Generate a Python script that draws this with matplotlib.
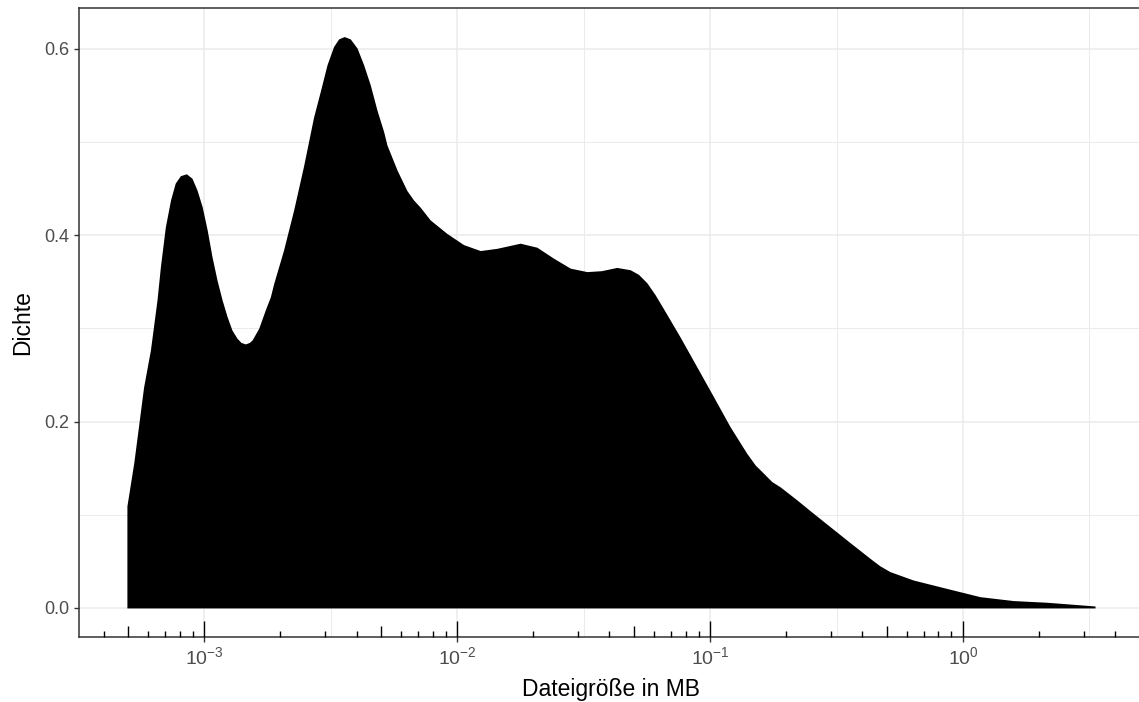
import numpy as np
import matplotlib
matplotlib.use('Agg')
import matplotlib.pyplot as plt
from matplotlib.ticker import FixedLocator
from matplotlib.transforms import blended_transform_factory

plt.rcParams['font.family'] = ['Liberation Sans', 'DejaVu Sans']
plt.rcParams['mathtext.fontset'] = 'custom'
plt.rcParams['mathtext.rm'] = 'Liberation Sans'
plt.rcParams['mathtext.it'] = 'Liberation Sans:italic'
plt.rcParams['mathtext.bf'] = 'Liberation Sans:bold'

# Dichte der Dateigroessen, x in MB
size_mb = [
    4.94e-4, 5.26e-4, 5.75e-4, 6.12e-4, 6.50e-4, 6.70e-4, 7.01e-4, 7.35e-4,
    7.67e-4, 8.04e-4, 8.49e-4, 8.93e-4, 9.35e-4, 9.80e-4, 1.026e-3,
    1.072e-3, 1.122e-3, 1.175e-3, 1.230e-3, 1.285e-3, 1.346e-3, 1.396e-3,
    1.452e-3, 1.507e-3, 1.545e-3, 1.641e-3, 1.742e-3, 1.824e-3, 1.879e-3,
    2.056e-3, 2.254e-3, 2.466e-3, 2.704e-3, 2.871e-3, 3.055e-3, 3.243e-3,
    3.396e-3, 3.573e-3, 3.776e-3, 4.018e-3, 4.266e-3, 4.529e-3, 4.819e-3,
    5.117e-3, 5.272e-3, 5.781e-3, 6.324e-3, 6.714e-3, 7.145e-3, 7.816e-3,
    9.099e-3, 1.059e-2, 1.233e-2, 1.435e-2, 1.774e-2, 2.065e-2, 2.404e-2,
    2.799e-2, 3.258e-2, 3.715e-2, 4.276e-2, 4.831e-2, 5.212e-2, 5.623e-2,
    6.067e-2, 6.546e-2, 7.603e-2, 8.851e-2, 0.1030, 0.1199, 0.1396, 0.1507,
    0.1626, 0.1754, 0.1892, 0.2203, 0.2559, 0.2979, 0.3467, 0.4285, 0.4699,
    0.5140, 0.6353, 0.8610, 1.167, 1.581, 2.143, 3.327,
]
dichte = [
    0.1095, 0.156, 0.237, 0.277, 0.331, 0.366, 0.409, 0.438,
    0.456, 0.464, 0.466, 0.4613, 0.4487, 0.4308, 0.4058,
    0.3771, 0.352, 0.3307, 0.3127, 0.2984, 0.2895, 0.2850,
    0.2834, 0.2850, 0.2877, 0.3003, 0.320, 0.334, 0.348,
    0.384, 0.427, 0.474, 0.527, 0.554, 0.583, 0.6026,
    0.6108, 0.6133, 0.6108, 0.6009, 0.5829, 0.5615, 0.534,
    0.5113, 0.497, 0.470, 0.448, 0.438, 0.430, 0.4165,
    0.402, 0.390, 0.3836, 0.386, 0.3915, 0.3872, 0.3754,
    0.3647, 0.361, 0.362, 0.3655, 0.363, 0.358, 0.349,
    0.336, 0.321, 0.291, 0.259, 0.227, 0.1946, 0.166, 0.1535,
    0.1446, 0.1356, 0.130, 0.116, 0.1016, 0.0873, 0.073, 0.0533, 0.0451,
    0.039, 0.030, 0.021, 0.0121, 0.0079, 0.0061, 0.0021,
]

x_breaks = [1e-3, 1e-2, 1e-1, 1e0]
x_labels = [r'$10^{-3}$', r'$10^{-2}$', r'$10^{-1}$', r'$10^{0}$']
x_minor = [10 ** -2.5, 10 ** -1.5, 10 ** -0.5, 10 ** 0.5]
y_breaks = [0.0, 0.2, 0.4, 0.6]
y_labels = ['0.0', '0.2', '0.4', '0.6']
y_minor = [0.1, 0.3, 0.5]

W, H = 1139, 702
fig = plt.figure(figsize=(W / 100, H / 100), dpi=100)
left, right, top, bottom = 78.5, 1143.4, 8.0, 636.5
ax = fig.add_axes([left / W, 1 - bottom / H, (right - left) / W, (bottom - top) / H])

ax.fill_between(size_mb, 0, dichte, color='black', lw=0, zorder=2)
ax.set_xscale('log')

# ggplot-artige Erweiterung um 5 %
lx = np.log10([min(size_mb), max(size_mb)])
pad = 0.05 * (lx[1] - lx[0])
ax.set_xlim(10 ** (lx[0] - pad), 10 ** (lx[1] + pad))
ymax = max(dichte)
ax.set_ylim(-0.05 * ymax, ymax * 1.05)

ax.xaxis.set_major_locator(FixedLocator(x_breaks))
ax.set_xticklabels(x_labels)
ax.xaxis.set_minor_locator(FixedLocator(x_minor))
ax.yaxis.set_major_locator(FixedLocator(y_breaks))
ax.set_yticklabels(y_labels)
ax.yaxis.set_minor_locator(FixedLocator(y_minor))

ax.set_axisbelow(True)
ax.grid(which='major', color='#EBEBEB', lw=1.1)
ax.grid(which='minor', color='#EBEBEB', lw=0.7)

ax.tick_params(which='major', length=3.8, width=1.0, color='#333333',
               labelcolor='#4D4D4D', labelsize=13, pad=3)
ax.tick_params(axis='x', which='major', labelsize=14)
ax.tick_params(which='minor', length=0)
for s in ax.spines.values():
    s.set_color('#333333')
    s.set_linewidth(1.1)

# log ticks innen am unteren Rand
trans = blended_transform_factory(ax.transData, ax.transAxes)
ph = bottom - top
x0, x1 = ax.get_xlim()
for k in range(-4, 1):
    for m in range(1, 10):
        v = m * 10.0 ** k
        if v < x0 or v > x1:
            continue
        ln = 16.0 if m == 1 else (11.0 if m == 5 else 5.5)
        ax.plot([v, v], [0, ln / ph], transform=trans, color='black',
                lw=1.0, solid_capstyle='butt', zorder=3, clip_on=False)

ax.set_xlabel('Dateigröße in MB', fontsize=16.5, labelpad=7)
ax.set_ylabel('Dichte', fontsize=16.5, labelpad=7)

fig.savefig('out.png', dpi=100)
